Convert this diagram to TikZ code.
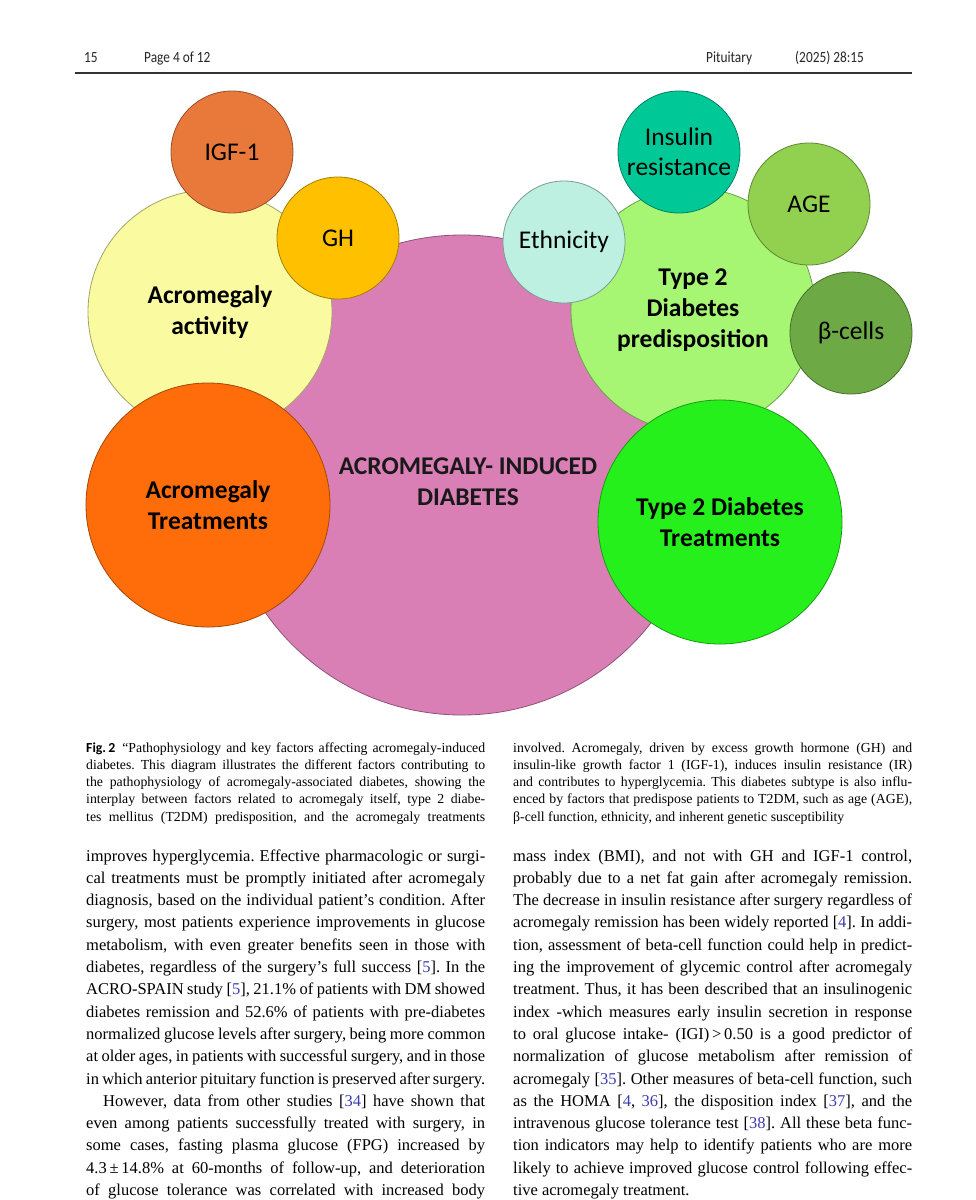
\documentclass[tikz,border=0pt]{standalone}
\usepackage{fontspec}
\setmainfont{Liberation Serif}
\newfontfamily\bubblefont{Carlito}
\newfontfamily\headfont[FakeStretch=0.86]{Carlito}

\definecolor{mainpink}{HTML}{D97FB6}
\definecolor{actyellow}{HTML}{FAFBA0}
\definecolor{igfcol}{HTML}{E8793A}
\definecolor{ghcol}{HTML}{FFC000}
\definecolor{acrotreat}{HTML}{FF6D0A}
\definecolor{predisp}{HTML}{A6F573}
\definecolor{ethncol}{HTML}{BDF0E0}
\definecolor{insulcol}{HTML}{00C896}
\definecolor{agecol}{HTML}{92D050}
\definecolor{betacol}{HTML}{6DAA45}
\definecolor{ttreat}{HTML}{26F01C}
\definecolor{citeblue}{HTML}{3B3BB0}
\definecolor{rulegray}{HTML}{333333}

\newlength{\colw}
\setlength{\colw}{399pt}
\newcommand{\jline}[1]{\hbox to \colw{#1}}
\newcommand{\lastline}[1]{\hbox to \colw{#1\hfil}}
\newcommand{\cit}[1]{\textcolor{citeblue}{#1}}
\frenchspacing

\begin{document}
\begin{tikzpicture}[
    x=1pt, y=-1pt,
    every node/.style={text=black},
    bubble/.style={circle, fill=#1, draw=#1!65!black, line width=0.8pt, inner sep=0pt, align=center},
    small/.style={minimum size=122pt, font=\bubblefont\fontsize{25.5}{30}\selectfont},
    big/.style={minimum size=244pt, font=\bubblefont\bfseries\fontsize{25.5}{31}\selectfont},
    head/.style={anchor=base west, inner sep=0pt, font=\headfont\fontsize{15.5}{18}\selectfont, text=black!85},
    column/.style={anchor=base west, inner sep=0pt}
]
    \useasboundingbox[fill=white] (0,0) rectangle (976,1200);

    % --- Header ---
    \node[head] (pnum)  at (84,62)  {15};
    \node[head] (pinfo) at (144,62) {Page 4 of 12};
    \node[head] (jname) at (706,62) {Pituitary};
    \node[head] (jvol)  at (795,62) {(2025) 28:15};
    \coordinate (ruleL) at (75,73);
    \coordinate (ruleR) at (912,73);
    \draw[rulegray, line width=2.8pt] (ruleL) -- (ruleR);

    % --- Central circle ---
    \node[bubble=mainpink, minimum size=480pt] (aid) at (462,475) {};
    \node[font=\bubblefont\bfseries\fontsize{25.5}{31}\selectfont, align=center, text=black!90]
        (aidtext) at (468,482) {ACROMEGALY- INDUCED\\DIABETES};

    % --- Acromegaly side ---
    \node[bubble=actyellow, big] (activity) at (210,312) {Acromegaly\\activity};
    \node[bubble=igfcol, small] (igf) at (232,152) {IGF-1};
    \node[bubble=ghcol, small]  (gh)  at (338,238) {GH};
    \node[bubble=acrotreat, big] (acrotx) at (208,505) {Acromegaly\\Treatments};

    % --- Type 2 diabetes side ---
    \node[bubble=predisp, big] (t2pre) at (693,310) {Type 2\\Diabetes\\predisposition};
    \node[bubble=ethncol, small]  (ethn)  at (564,242) {Ethnicity};
    \node[bubble=insulcol, small] (ir)    at (679,152) {Insulin\\resistance};
    \node[bubble=agecol, small]   (age)   at (809,204) {AGE};
    \node[bubble=betacol, small]  (beta)  at (851,333) {β-cells};
    \node[bubble=ttreat, big] (t2tx) at (720,522) {Type 2 Diabetes\\Treatments};

    % --- Caption ---
    \node[column] (capL) at (86,752) {\vtop{\fontsize{13.8}{17.3}\selectfont
        \jline{{\bubblefont\bfseries Fig.\,2}\enspace “Pathophysiology and key factors affecting acromegaly-induced}
        \jline{diabetes. This diagram illustrates the different factors contributing to}
        \jline{the pathophysiology of acromegaly-associated diabetes, showing the}
        \jline{interplay between factors related to acromegaly itself, type 2 diabe-}
        \jline{tes mellitus (T2DM) predisposition, and the acromegaly treatments}}};
    \node[column] (capR) at (513,752) {\vtop{\fontsize{13.8}{17.3}\selectfont
        \jline{involved. Acromegaly, driven by excess growth hormone (GH) and}
        \jline{insulin-like growth factor 1 (IGF-1), induces insulin resistance (IR)}
        \jline{and contributes to hyperglycemia. This diabetes subtype is also influ-}
        \jline{enced by factors that predispose patients to T2DM, such as age (AGE),}
        \lastline{β-cell function, ethnicity, and inherent genetic susceptibility}}};

    % --- Body text ---
    \node[column] (bodyL) at (86,861) {\vtop{\fontsize{16.5}{22.3}\selectfont
        \jline{improves hyperglycemia. Effective pharmacologic or surgi-}
        \jline{cal treatments must be promptly initiated after acromegaly}
        \jline{diagnosis, based on the individual patient’s condition. After}
        \jline{surgery, most patients experience improvements in glucose}
        \jline{metabolism, with even greater benefits seen in those with}
        \jline{diabetes, regardless of the surgery’s full success [\cit{5}]. In the}
        \jline{ACRO-SPAIN study [\cit{5}], 21.1\% of patients with DM showed}
        \jline{diabetes remission and 52.6\% of patients with pre-diabetes}
        \jline{normalized glucose levels after surgery, being more common}
        \jline{at older ages, in patients with successful surgery, and in those}
        \jline{in which anterior pituitary function is preserved after surgery.}
        \jline{\hspace{17pt}However, data from other studies [\cit{34}] have shown that}
        \jline{even among patients successfully treated with surgery, in}
        \jline{some cases, fasting plasma glucose (FPG) increased by}
        \jline{4.3\,±\,14.8\% at 60-months of follow-up, and deterioration}
        \jline{of glucose tolerance was correlated with increased body}}};
    \node[column] (bodyR) at (513,861) {\vtop{\fontsize{16.5}{22.3}\selectfont
        \jline{mass index (BMI), and not with GH and IGF-1 control,}
        \jline{probably due to a net fat gain after acromegaly remission.}
        \jline{The decrease in insulin resistance after surgery regardless of}
        \jline{acromegaly remission has been widely reported [\cit{4}]. In addi-}
        \jline{tion, assessment of beta-cell function could help in predict-}
        \jline{ing the improvement of glycemic control after acromegaly}
        \jline{treatment. Thus, it has been described that an insulinogenic}
        \jline{index -which measures early insulin secretion in response}
        \jline{to oral glucose intake- (IGI)\,>\,0.50 is a good predictor of}
        \jline{normalization of glucose metabolism after remission of}
        \jline{acromegaly [\cit{35}]. Other measures of beta-cell function, such}
        \jline{as the HOMA [\cit{4}, \cit{36}], the disposition index [\cit{37}], and the}
        \jline{intravenous glucose tolerance test [\cit{38}]. All these beta func-}
        \jline{tion indicators may help to identify patients who are more}
        \jline{likely to achieve improved glucose control following effec-}
        \lastline{tive acromegaly treatment.}}};

\end{tikzpicture}
\end{document}
